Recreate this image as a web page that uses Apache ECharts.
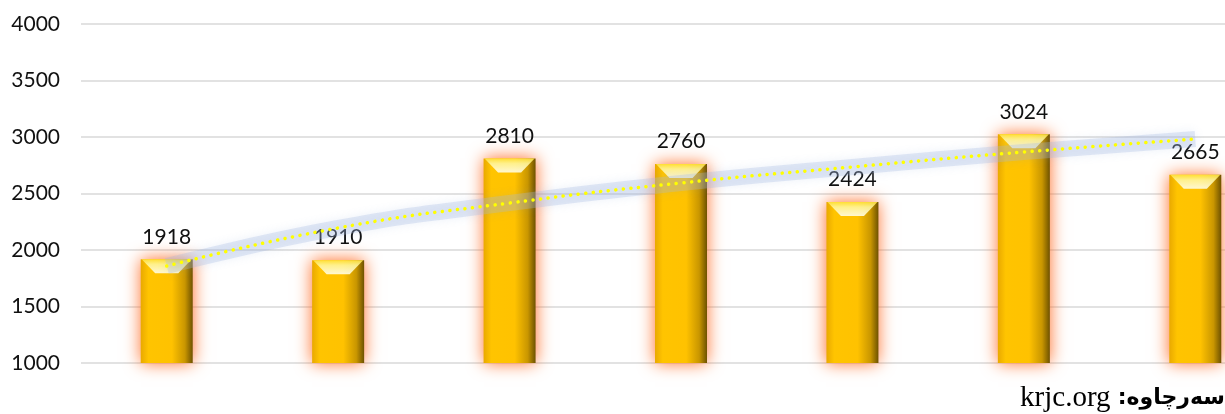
<!DOCTYPE html>
<html>
<head>
<meta charset="utf-8">
<script src="https://cdn.jsdelivr.net/npm/echarts@6/dist/echarts.min.js"></script>
<style>
html,body{margin:0;padding:0;background:#fff;}
#chart{width:1225px;height:414px;}
</style>
</head>
<body>
<div id="chart"></div>
<script>
const categories = ['1', '2', '3', '4', '5', '6', '7'];
const values = [1918, 1910, 2810, 2760, 2424, 3024, 2665];
const trendValues = [1858, 2195, 2416, 2593, 2735, 2867, 2982];
const sourceLabel = 'krjc.org ';
const sourcePrefix = ':سەرچاوە';

const chart = echarts.init(document.getElementById('chart'));
const barGradient = new echarts.graphic.LinearGradient(0, 0, 1, 0, [
  {offset: 0, color: '#e9a900'},
  {offset: 0.15, color: '#ffc400'},
  {offset: 0.6, color: '#ffc200'},
  {offset: 0.85, color: '#c99600'},
  {offset: 1, color: '#6e5200'}
]);
const bevelGradient = new echarts.graphic.LinearGradient(0, 0, 0, 1, [
  {offset: 0, color: '#ffe23a'},
  {offset: 0.35, color: '#fff59a'},
  {offset: 1, color: '#fffde8'}
]);

chart.setOption({
  animation: false,
  grid: {left: 81, top: 24, width: 1200, height: 339, containLabel: false, outerBoundsMode: 'none'},
  xAxis: {
    type: 'category',
    data: categories,
    axisLine: {show: false},
    axisTick: {show: false},
    axisLabel: {show: false}
  },
  yAxis: {
    type: 'value',
    min: 1000,
    max: 4000,
    interval: 500,
    axisLine: {show: false},
    axisTick: {show: false},
    axisLabel: {fontFamily: 'Lato', fontSize: 21, color: '#111', margin: 21, formatter: function (v) { return String(v); }},
    splitLine: {lineStyle: {color: '#d9d9d9', width: 1.5}}
  },
  series: [
    {
      type: 'bar',
      data: values,
      barWidth: 52,
      itemStyle: {
        color: barGradient,
        shadowColor: 'rgba(255,110,40,1)',
        shadowBlur: 16
      },
      label: {
        show: true,
        position: 'top',
        distance: 12,
        fontFamily: 'Lato',
        fontSize: 21,
        color: '#111'
      },
      z: 2
    },
    {
      type: 'pictorialBar',
      data: values,
      symbol: 'path://M0,0 L52,0 L38,14 L14,14 Z',
      symbolSize: [50, 14],
      symbolPosition: 'end',
      barGap: '-100%',
      itemStyle: {color: bevelGradient, opacity: 0.9},
      z: 3
    },
    {
      type: 'line',
      data: trendValues,
      smooth: true,
      symbol: 'none',
      lineStyle: {
        width: 16,
        color: 'rgba(165,185,225,0.3)',
        shadowBlur: 10,
        shadowColor: 'rgba(120,150,210,0.45)'
      },
      z: 4
    },
    {
      type: 'line',
      data: trendValues,
      smooth: true,
      symbol: 'none',
      lineStyle: {
        width: 3.5,
        color: '#ffff00',
        type: [0.1, 7.5],
        cap: 'round'
      },
      z: 5
    }
  ],
  graphic: [
    {
      type: 'text',
      right: 0,
      bottom: 1,
      style: {
        text: '{a|' + sourceLabel + '}{b|' + sourcePrefix + '}',
        rich: {
          a: {fontFamily: 'Liberation Serif', fontSize: 29, color: '#000'},
          b: {fontFamily: 'DejaVu Sans', fontWeight: 'bold', fontSize: 22, color: '#000'}
        }
      }
    }
  ]
});
</script>
</body>
</html>
